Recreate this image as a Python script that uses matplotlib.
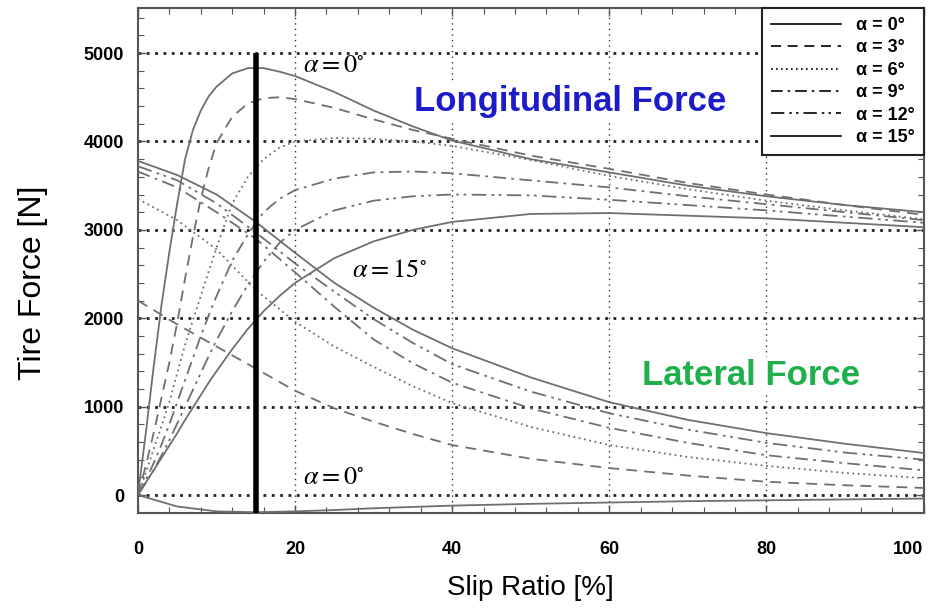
import numpy as np
import matplotlib
matplotlib.use('Agg')
import matplotlib.pyplot as plt
from matplotlib.lines import Line2D
from matplotlib.ticker import MultipleLocator

plt.rcParams['font.family'] = ['Liberation Sans', 'DejaVu Sans']
plt.rcParams['mathtext.fontset'] = 'stix'

# slip ratio grids [%]
slip_long = [0, 1, 2, 3, 4, 5, 6, 7, 8, 9, 10, 12, 14, 16, 18, 20, 25, 30, 35, 40, 50, 60, 70, 80, 90, 100]
slip_lat = [0, 5, 10, 15, 20, 25, 30, 35, 40, 50, 60, 70, 80, 90, 100]

# longitudinal force [N] per slip angle
long_a0 = [0, 700, 1450, 2150, 2750, 3300, 3800, 4130, 4350, 4510, 4620, 4770, 4830, 4830, 4790, 4740,
           4560, 4350, 4170, 4010, 3800, 3650, 3500, 3380, 3280, 3200]
long_a3 = [0, 330, 700, 1100, 1500, 1950, 2450, 2920, 3350, 3700, 3980, 4280, 4430, 4490, 4500, 4480,
           4380, 4250, 4130, 4030, 3840, 3690, 3530, 3400, 3280, 3170]
long_a6 = [0, 250, 520, 780, 1050, 1380, 1700, 1980, 2250, 2530, 2800, 3300, 3600, 3800, 3930, 4000,
           4040, 4030, 4000, 3950, 3790, 3610, 3460, 3330, 3220, 3120]
long_a9 = [0, 170, 360, 570, 800, 1050, 1300, 1550, 1800, 2030, 2250, 2650, 2950, 3200, 3350, 3450,
           3580, 3650, 3660, 3640, 3560, 3480, 3380, 3290, 3200, 3110]
long_a12 = [0, 140, 280, 450, 620, 810, 1000, 1190, 1380, 1570, 1750, 2080, 2380, 2640, 2850, 3000,
            3220, 3330, 3380, 3400, 3390, 3340, 3280, 3220, 3150, 3080]
long_a15 = [0, 140, 280, 420, 560, 700, 850, 990, 1130, 1270, 1400, 1650, 1880, 2080, 2250, 2400,
            2680, 2870, 3000, 3090, 3180, 3190, 3160, 3130, 3080, 3030]

# lateral force [N] per slip angle
lat_a0 = [0, -130, -185, -195, -185, -170, -150, -135, -120, -100, -85, -70, -60, -50, -40]
lat_a3 = [2200, 1930, 1680, 1430, 1180, 980, 830, 690, 565, 410, 305, 220, 150, 110, 80]
lat_a6 = [3350, 3110, 2780, 2320, 1960, 1680, 1450, 1230, 1040, 770, 565, 430, 330, 250, 190]
lat_a9 = [3660, 3480, 3200, 2900, 2520, 2130, 1760, 1490, 1270, 980, 760, 590, 450, 360, 280]
lat_a12 = [3720, 3560, 3300, 2970, 2620, 2300, 1990, 1720, 1480, 1170, 925, 740, 590, 480, 400]
lat_a15 = [3780, 3620, 3400, 3090, 2740, 2400, 2120, 1870, 1660, 1330, 1050, 850, 700, 580, 475]

alphas = [0, 3, 6, 9, 12, 15]
styles = ['-', (0, (6, 4)), (0, (1, 2)), (0, (7, 3, 1.5, 3)), (0, (8, 3, 1.5, 2.5, 1.5, 3)), '-']
marker_slip = 15
x_ticks = [0, 20, 40, 60, 80, 100]
y_ticks = [0, 1000, 2000, 3000, 4000, 5000]

fig = plt.figure(figsize=(9.32, 6.16), dpi=100)
ax = fig.add_axes([0.148, 0.167, 0.843, 0.820])

grey = '#6f6f6f'
long_sets = [long_a0, long_a3, long_a6, long_a9, long_a12, long_a15]
lat_sets = [lat_a0, lat_a3, lat_a6, lat_a9, lat_a12, lat_a15]
for ls, yl, yt in zip(styles, long_sets, lat_sets):
    ax.plot(slip_long, yl, color=grey, lw=1.3, linestyle=ls, zorder=3)
    ax.plot(slip_lat, yt, color=grey, lw=1.3, linestyle=ls, zorder=3)

# grid
for gx in x_ticks[1:-1]:
    ax.axvline(gx, color='#333333', lw=1.0, linestyle=(0, (1, 3)), zorder=1)
for gy in y_ticks:
    ax.axhline(gy, color='#222222', lw=2.0, linestyle=(0, (1, 2)), zorder=1)

ax.vlines(marker_slip, -205, 5000, color='black', lw=4, zorder=5)

ax.set_xlim(0, 100)
ax.set_ylim(-205, 5510)
ax.set_xticks(x_ticks)
ax.set_yticks(y_ticks)
ax.xaxis.set_minor_locator(MultipleLocator(4))
ax.yaxis.set_minor_locator(MultipleLocator(200))
ax.tick_params(which='both', direction='in', top=True, right=True, color='#555555')
ax.tick_params(which='major', length=6, width=1)
ax.tick_params(which='minor', length=4, width=0.8)
ax.tick_params(axis='x', pad=20, labelsize=13)
ax.tick_params(axis='y', pad=10, labelsize=13)
for t in ax.xaxis.get_major_ticks() + ax.yaxis.get_major_ticks():
    t.label1.set_fontweight('bold')
ax.xaxis.get_major_ticks()[-1].label1.set_horizontalalignment('right')
for sp in ax.spines.values():
    sp.set_color('#555555')
    sp.set_linewidth(1.5)

ax.set_xlabel('Slip Ratio [%]', fontsize=20, labelpad=12)
ax.set_ylabel('Tire Force [N]', fontsize=23)
ax.yaxis.set_label_coords(-0.115, 0.455)

# annotations
white = dict(facecolor='white', edgecolor='none', pad=1)
ax.text(21, 4860, r'$\alpha = 0^{\circ}$', fontsize=19, va='center', ha='left', zorder=4)
ax.text(27.3, 2545, r'$\alpha = 15^{\circ}$', fontsize=19, va='center', ha='left', zorder=4)
ax.text(21, 200, r'$\alpha = 0^{\circ}$', fontsize=19, va='center', ha='left', zorder=4)
ax.text(35.2, 4450, 'Longitudinal Force', fontsize=25, fontweight='bold', color='#1c1cc8',
        va='center', ha='left', bbox=white, zorder=4)
ax.text(64.2, 1357, 'Lateral Force', fontsize=25, fontweight='bold', color='#1fb04c',
        va='center', ha='left', bbox=white, zorder=4)

handles = [Line2D([], [], color='black', lw=1.2, linestyle=ls) for ls in styles]
labels = [f'α = {a}°' for a in alphas]
leg = ax.legend(handles, labels, loc='upper right', bbox_to_anchor=(1, 1), borderaxespad=0,
                fancybox=False, framealpha=1, edgecolor='#222222', handlelength=3.9,
                labelspacing=0.3, prop={'weight': 'bold', 'size': 13}, borderpad=0.5)
leg.get_frame().set_linewidth(1.5)
leg.set_zorder(6)

fig.savefig('out.png', dpi=100)
